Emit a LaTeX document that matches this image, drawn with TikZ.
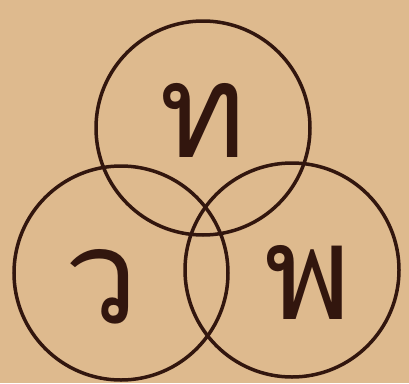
\documentclass[tikz,border=0pt]{standalone}
\usepackage{fontspec}
\newfontfamily\thaifont[Script=Thai]{Loma}
\definecolor{bg}{RGB}{222,186,142}
\definecolor{ink}{RGB}{50,22,14}
\begin{document}
\begin{tikzpicture}[x=1pt,y=-1pt,
  ring/.style={draw=ink,line width=3.5pt,circle,minimum size=214pt,inner sep=0pt},
  letter/.style={text=ink,font=\thaifont\fontsize{132}{132}\selectfont,inner sep=0pt}]
\fill[bg] (0,0) rectangle (409,383);
\useasboundingbox (0,0) rectangle (409,383);
\node[ring] (top) at (203,128) {};
\node[ring] (left) at (121,273) {};
\node[ring] (right) at (292,270) {};
\node[letter] (t) at (203,120) {ท};
\node[letter] (w) at (102,287) {ว};
\node[letter] (p) at (308,282) {พ};
\end{tikzpicture}
\end{document}
